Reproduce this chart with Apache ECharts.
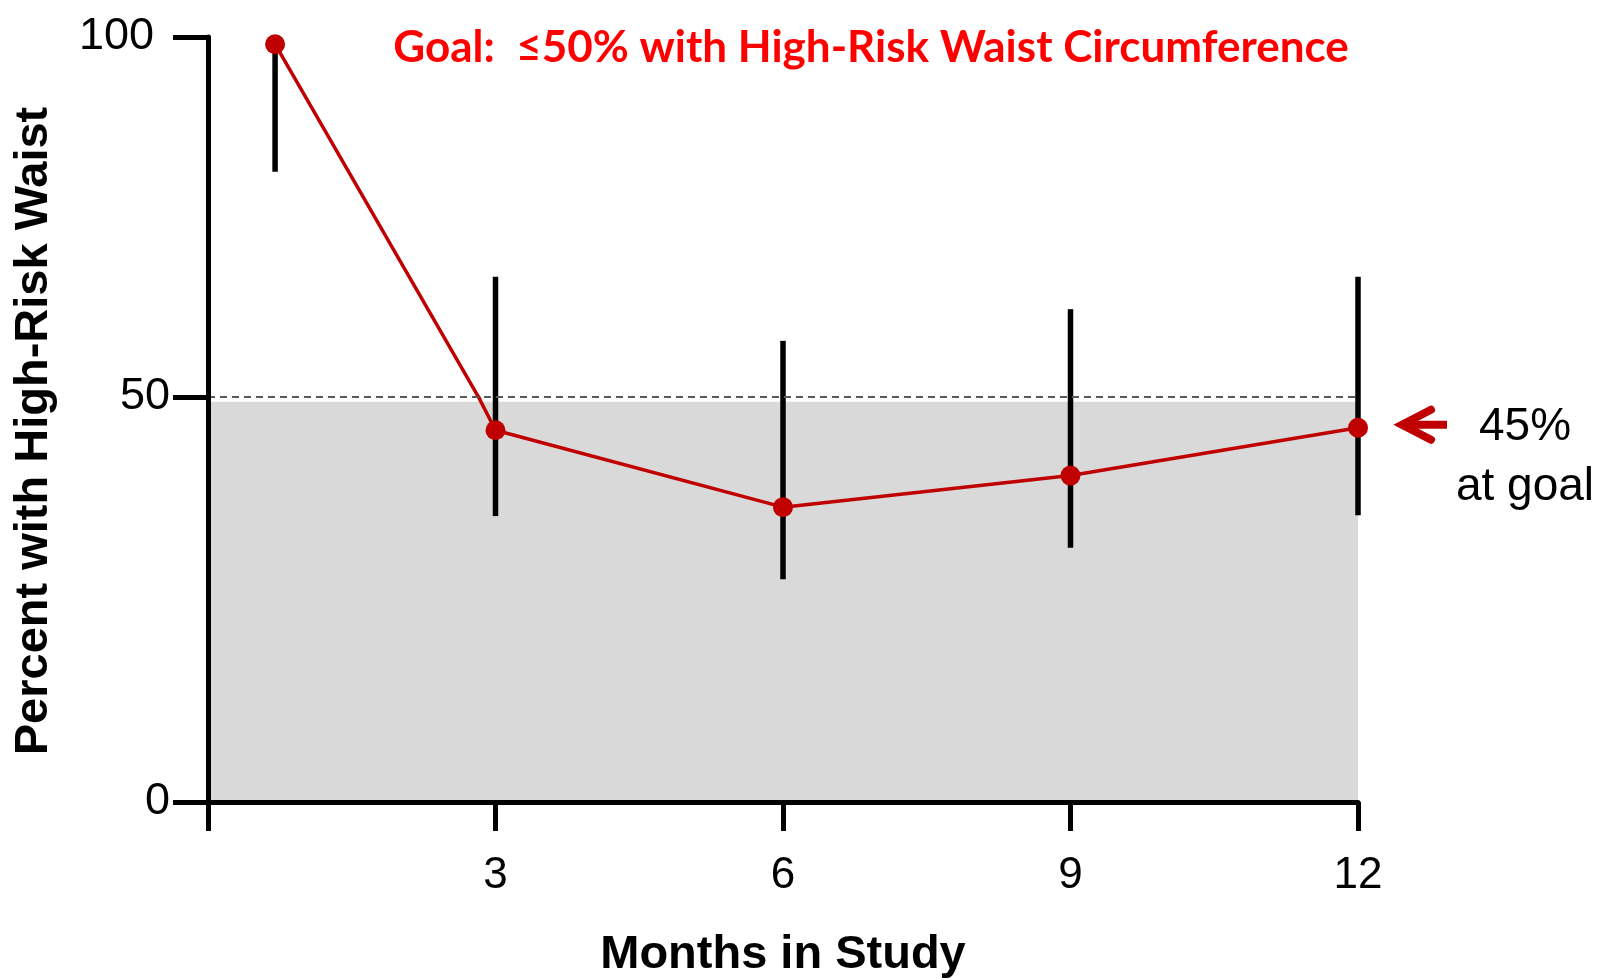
<!DOCTYPE html>
<html><head><meta charset="utf-8">
<script src="https://cdn.jsdelivr.net/npm/echarts@6/dist/echarts.min.js"></script>
<style>html,body{margin:0;padding:0;background:#fff}#c{width:1609px;height:980px}</style>
</head><body><div id="c"></div>
<script>
// ---- data ----
const months = [0.7, 3, 6, 9, 12];
const pctHighRisk = [99.0, 45.9, 36.4, 40.3, 46.2];
const errLow = [81.3, 35.3, 27.5, 31.4, 35.4];
const errHigh = [100, 66.7, 57.8, 62.2, 66.7];
const xTickValues = [0, 3, 6, 9, 12];
const yLowerRange = [0, 50];
const yUpperRange = [50, 100];
const goalValue = 50;
const shadeTop = 49.4;
const goalText = 'Goal:  \u226450% with High-Risk Waist Circumference';
const xName = 'Months in Study';
const yName = 'Percent with High-Risk Waist';
const noteText = ['45%', 'at goal'];

const RED = '#C00000';
const FONT = 'Liberation Sans, Arial, sans-serif';

const points = months.map((m, i) => [m, pctHighRisk[i]]);
const errData = months.map((m, i) => [m, errLow[i], errHigh[i]]);

function renderErr(params, api) {
  const x = api.value(0), lo = api.value(1), hi = api.value(2);
  const p1 = api.coord([x, lo]), p2 = api.coord([x, hi]);
  const cs = params.coordSys;
  const yTop = Math.max(p2[1], cs.y), yBot = Math.min(p1[1], cs.y + cs.height);
  if (yTop >= yBot) return { type: 'group', children: [] };
  return { type: 'line', shape: { x1: p1[0], y1: yBot, x2: p1[0], y2: yTop },
    style: { stroke: '#000', lineWidth: 5.5, lineCap: 'butt' } };
}

const axisLineStyle = { color: '#000', width: 5 };
const chart = echarts.init(document.getElementById('c'), null, { renderer: 'canvas' });

const xBase = {
  type: 'value', min: xTickValues[0], max: xTickValues[xTickValues.length - 1],
  interval: xTickValues[1] - xTickValues[0], splitLine: { show: false }, z: 5
};

const option = {
  animation: false,
  backgroundColor: '#fff',
  grid: [
    { left: 208, top: 397, width: 1150, height: 407 },
    { left: 208, top: 37, width: 1150, height: 360 }
  ],
  xAxis: [
    Object.assign({}, xBase, {
      gridIndex: 0,
      axisLine: { lineStyle: axisLineStyle },
      axisTick: { length: 29, lineStyle: axisLineStyle },
      axisLabel: { fontSize: 44, color: '#000', fontFamily: FONT, margin: 52,
        formatter: v => (v === 0 ? '' : String(v)) },
      name: xName, nameLocation: 'middle', nameGap: 130,
      nameTextStyle: { fontSize: 47, fontWeight: 'bold', color: '#000', fontFamily: FONT }
    }),
    Object.assign({}, xBase, { gridIndex: 1, show: false })
  ],
  yAxis: [
    { type: 'value', gridIndex: 0, min: yLowerRange[0], max: yLowerRange[1],
      interval: yLowerRange[1] - yLowerRange[0], z: 5,
      axisLine: { show: true, lineStyle: axisLineStyle },
      axisTick: { show: true, length: 35, lineStyle: axisLineStyle },
      axisLabel: { fontSize: 45, color: '#000', fontFamily: FONT, margin: 38 },
      splitLine: { show: false } },
    { type: 'value', gridIndex: 1, min: yUpperRange[0], max: yUpperRange[1],
      interval: yUpperRange[1] - yUpperRange[0], z: 5,
      axisLine: { show: true, lineStyle: axisLineStyle },
      axisTick: { show: true, length: 35, lineStyle: axisLineStyle },
      axisLabel: { fontSize: 45, color: '#000', fontFamily: FONT, margin: 54, showMinLabel: false,
        verticalAlign: 'middle', padding: [0, 0, 8, 0] },
      splitLine: { show: false } }
  ],
  series: [
    { type: 'line', xAxisIndex: 0, yAxisIndex: 0, data: [], z: 1, silent: true,
      markArea: { silent: true, itemStyle: { color: '#D9D9D9' },
        data: [[{ xAxis: xTickValues[0], yAxis: 0 }, { xAxis: xTickValues[xTickValues.length - 1], yAxis: shadeTop }]] },
      markLine: { silent: true, symbol: 'none', label: { show: false },
        lineStyle: { color: '#595959', type: [7, 5], width: 2 },
        data: [{ yAxis: goalValue }] } },
    { type: 'custom', xAxisIndex: 0, yAxisIndex: 0, data: errData, renderItem: renderErr, z: 2 },
    { type: 'custom', xAxisIndex: 1, yAxisIndex: 1, data: errData, renderItem: renderErr, z: 2 },
    { type: 'line', xAxisIndex: 0, yAxisIndex: 0, data: points, clip: true, z: 3,
      symbol: 'circle', symbolSize: 20, showAllSymbol: true,
      lineStyle: { color: RED, width: 3.5 }, itemStyle: { color: RED } },
    { type: 'line', xAxisIndex: 1, yAxisIndex: 1, data: points, clip: true, z: 3,
      symbol: 'circle', symbolSize: 20, showAllSymbol: true,
      lineStyle: { color: RED, width: 3.5 }, itemStyle: { color: RED } }
  ]
};
chart.setOption(option);

const last = chart.convertToPixel({ gridIndex: 0 }, points[points.length - 1]);
const tipX = last[0] + 42, tipY = last[1] - 3;
chart.setOption({
  graphic: [
    { type: 'text', x: 871, y: 48,
      style: { text: goalText, fill: '#FF0000', font: 'bold 44px Lato, "Open Sans", sans-serif',
        textAlign: 'center', textVerticalAlign: 'middle' } },
    { type: 'text', x: 34, y: 431, rotation: Math.PI / 2,
      style: { text: yName, fill: '#000', font: 'bold 47px ' + FONT, textAlign: 'center', textVerticalAlign: 'middle' } },
    { type: 'line', shape: { x1: tipX + 4, y1: tipY, x2: tipX + 47, y2: tipY },
      style: { stroke: RED, lineWidth: 8, lineCap: 'butt' } },
    { type: 'polyline', shape: { points: [[tipX + 31, tipY - 15], [tipX + 2, tipY], [tipX + 31, tipY + 15]] },
      style: { stroke: RED, lineWidth: 8, lineCap: 'round', lineJoin: 'miter', fill: null } },
    { type: 'text', x: last[0] + 167, y: last[1] + 30,
      style: { text: noteText.join('\n'), fill: '#000', font: '46px ' + FONT, lineHeight: 60,
        textAlign: 'center', textVerticalAlign: 'middle' } }
  ]
});
</script></body></html>
